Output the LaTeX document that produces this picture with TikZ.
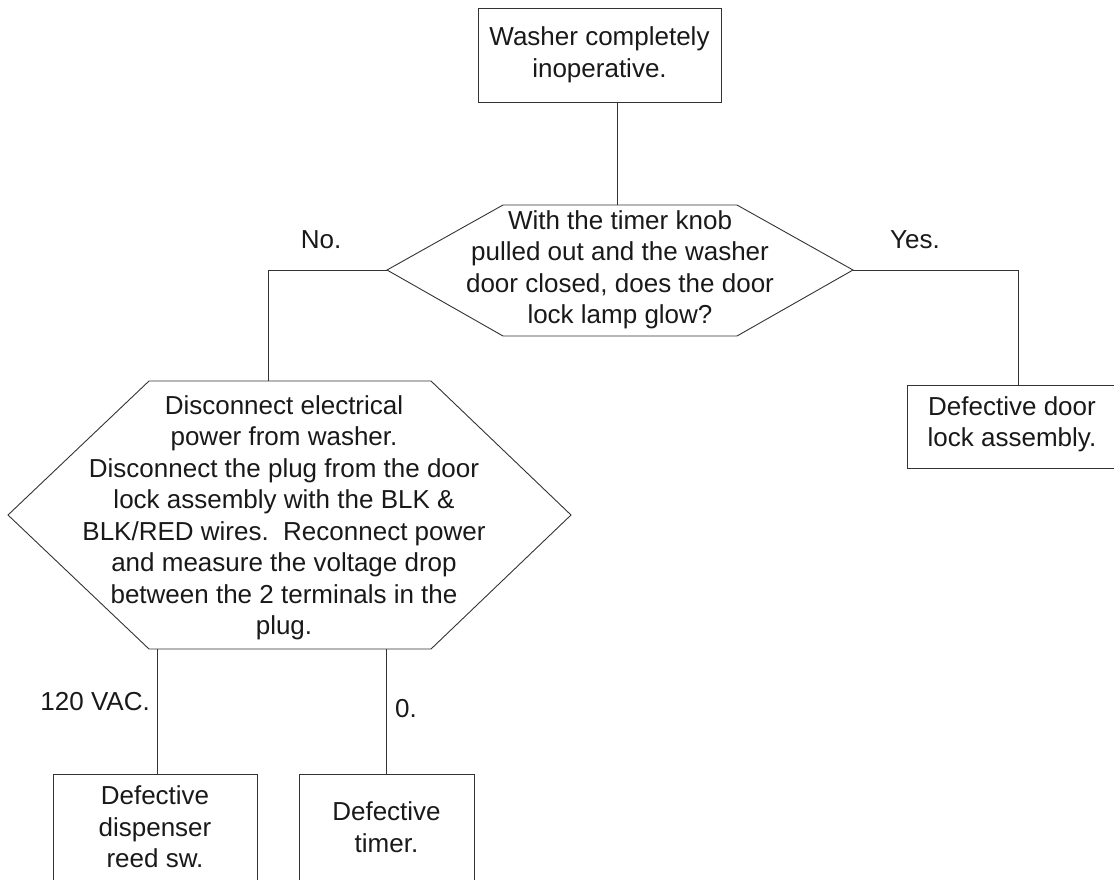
\documentclass[tikz,border=0pt]{standalone}
\usepackage{fontspec}
\setmainfont{Liberation Sans}
\usepackage{tikz}
\usetikzlibrary{calc,positioning}

\tikzset{
  every node/.style={font=\fontsize{26}{31.5}\selectfont, text=black!90},
  flow/.style={draw=black!80, line width=0.9pt},
  box/.style={flow, inner sep=0pt, align=center},
  txt/.style={inner sep=0pt, align=center},
  lbl/.style={inner sep=0pt}
}

\begin{document}
\begin{tikzpicture}[x=1pt, y=-1pt]
  \useasboundingbox (0,0) rectangle (1114,879);

  \node[box, minimum width=243pt, minimum height=94pt] (start) at (599.5,55)
    {Washer completely\\inoperative.};

  % first question
  \node[txt] (q1) at (620,270)
    {With the timer knob\\pulled out and the washer\\door closed, does the door\\lock lamp glow?};
  \draw[flow] (503,205) -- (737,205) -- (853,270) coordinate (q1e)
    -- (737,336) -- (503,336) -- (387,270) coordinate (q1w) -- cycle;
  \coordinate (q1n) at (617,205);

  % second question
  \node[txt] (q2) at (284,518)
    {Disconnect electrical\\power from washer.\\Disconnect the plug from the door\\lock assembly with the BLK \&\\BLK/RED wires.\ \ Reconnect power\\and measure the voltage drop\\between the 2 terminals in the\\plug.};
  \draw[flow] (149,381) -- (431,381) -- (571,515) -- (431,649) -- (149,649)
    -- (8,515) -- cycle;
  \coordinate (q2n) at (268,381);
  \coordinate (q2s) at (0,649);

  % right box runs off the page edge
  \node[box, minimum width=240pt, minimum height=83pt, anchor=west] (lock) at (907,426.5) {};
  \node[txt] (locktxt) at (1012,424.5) {Defective door\\lock assembly.};
  \coordinate (lockin) at (1018,385);

  \node[box, minimum width=204pt, minimum height=106pt] (reed) at (155,827)
    {Defective\\dispenser\\reed sw.};
  \node[box, minimum width=175pt, minimum height=106pt] (timer) at (386.5,827)
    {Defective\\timer.};

  \draw[flow] (q1n |- start.south) -- (q1n);
  \draw[flow] (q1w) -| (q2n);
  \draw[flow] (q1e) -| (lockin);
  \draw[flow] ([xshift=2pt]reed.north) -- ([xshift=2pt]reed.north |- q2s);
  \draw[flow] (timer.north) -- (timer.north |- q2s);

  \node[lbl, anchor=base] (no) at (321,248) {No.};
  \node[lbl, anchor=base] (yes) at (915,248) {Yes.};
  \node[lbl, anchor=base east] (hi) at (150,710) {120 VAC.};
  \node[lbl, anchor=base west] (zero) at (395,717) {0.};
\end{tikzpicture}
\end{document}
